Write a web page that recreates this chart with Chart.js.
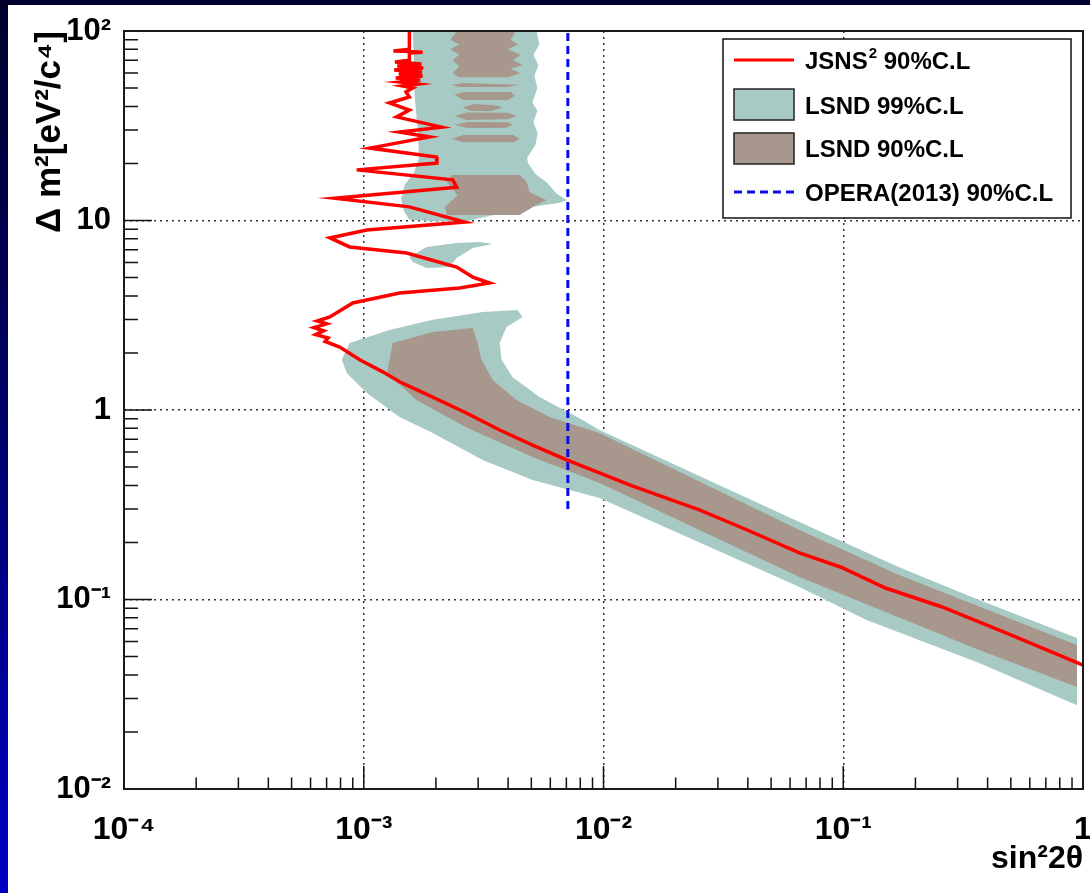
<!DOCTYPE html>
<html>
<head>
<meta charset="utf-8">
<script src="https://cdn.jsdelivr.net/npm/chart.js@4.4.1/dist/chart.umd.min.js"></script>
<style>
  html, body { margin: 0; padding: 0; width: 1090px; height: 893px; overflow: hidden;
    background: linear-gradient(to bottom, #00002c 0%, #000066 45%, #0000c4 100%); }
  #wrap { position: absolute; left: 8px; top: 5px; width: 1082px; height: 888px; background: #ffffff; }
  canvas { display: block; }
</style>
</head>
<body>
<div id="wrap"><canvas id="c" width="1082" height="888"></canvas></div>
<script>
// ---------- tick labels ----------
const xTickValues = [1e-4, 1e-3, 1e-2, 1e-1, 1];
const xTickLabels = ['10\u207B\u2074', '10\u207B\u00B3', '10\u207B\u00B2', '10\u207B\u00B9', '1'];
const yTickValues = [1e-2, 1e-1, 1, 10, 100];
const yTickLabels = ['10\u207B\u00B2', '10\u207B\u00B9', '1', '10', '10\u00B2'];
const minorSteps = [2, 3, 4, 5, 6, 7, 8, 9];

// ---------- JSNS2 90% C.L. sensitivity ----------
const jsnsSin2 = [1.55e-3, 1.55e-3, 1.33e-3, 1.55e-3, 1.76e-3, 1.55e-3, 1.55e-3,
  1.35e-3, 1.74e-3, 1.38e-3, 1.77e-3, 1.34e-3, 1.75e-3, 1.40e-3, 1.76e-3, 1.36e-3, 1.72e-3,
  1.42e-3, 1.68e-3, 1.45e-3, 1.60e-3,
  1.50e-3, 1.55e-3, 1.28e-3, 1.55e-3, 1.37e-3,
  2.11e-3, 1.41e-3, 1.88e-3, 1.06e-3, 2.01e-3, 2.02e-3, 9.35e-4, 2.35e-3, 2.44e-3, 7.57e-4,
  1.55e-3, 2.64e-3, 1.03e-3, 7.22e-4, 8.74e-4, 1.51e-3, 2.44e-3, 2.85e-3, 3.35e-3, 2.51e-3,
  1.41e-3, 9.00e-4, 7.22e-4, 6.40e-4, 7.00e-4, 6.20e-4, 6.80e-4, 6.30e-4, 7.10e-4, 6.90e-4,
  7.94e-4, 9.62e-4, 1.20e-3, 1.41e-3, 1.94e-3, 2.68e-3, 3.69e-3, 5.06e-3, 7.02e-3, 1.30e-2,
  2.51e-2, 4.0e-2, 6.56e-2, 9.80e-2, 1.5e-1, 2.585e-1, 5.0e-1, 1.0];
const jsnsDm2 = [100, 80, 78.5, 78, 77.2, 76.5, 70,
  68.6, 67.0, 65.4, 63.8, 62.3, 60.8, 59.3, 57.9, 56.5, 55.1,
  53.8, 52.5, 51.3, 50.0,
  47.7, 44.9, 41.7, 38.3, 35.2,
  31.1, 29.3, 27.6, 24.1, 21.6, 20.1, 18.5, 16.4, 15.0, 13.1,
  11.8, 9.82, 8.91, 8.09, 7.25, 6.74, 5.68, 5.03, 4.68, 4.40,
  4.14, 3.67, 3.10, 2.95, 2.85, 2.72, 2.62, 2.50, 2.40, 2.30,
  2.15, 1.84, 1.59, 1.41, 1.17, 0.964, 0.784, 0.653, 0.545, 0.40,
  0.297, 0.232, 0.176, 0.148, 0.115, 0.0913, 0.065, 0.0451];

// ---------- OPERA(2013) 90% C.L. ----------
const operaSin2 = [7.1e-3, 7.1e-3];
const operaDm2 = [0.3, 100];

// ---------- LSND 99% C.L. (three islands) ----------
const lsnd99UpperSin2 = [1.60e-3, 1.62e-3, 1.63e-3, 1.68e-3, 1.70e-3, 1.62e-3, 1.48e-3, 1.43e-3, 1.47e-3, 1.55e-3,
  2.0e-3, 2.68e-3, 3.69e-3, 5.0e-3, 6.56e-3, 7.02e-3, 6.37e-3, 5.79e-3, 5.2e-3, 4.85e-3,
  4.8e-3, 5.2e-3, 5.31e-3, 5.1e-3, 5.3e-3, 5.05e-3, 5.3e-3, 5.15e-3, 5.35e-3, 5.1e-3, 5.4e-3, 5.26e-3];
const lsnd99UpperDm2 = [100, 70, 45, 30, 21.4, 18, 15.4, 13.0, 11.2, 10.1,
  9.9, 9.9, 10.9, 11.8, 12.4, 12.8, 13.9, 15.9, 17.6, 20.0,
  21.4, 25, 29, 33, 38, 42, 50, 58, 66, 75, 85, 100];
const lsnd99IslandSin2 = [1.55e-3, 1.83e-3, 2.44e-3, 3.04e-3, 3.45e-3, 2.85e-3, 2.44e-3, 2.28e-3, 1.83e-3, 1.60e-3];
const lsnd99IslandDm2 = [6.42, 7.24, 7.61, 7.70, 7.52, 7.16, 6.34, 5.68, 5.61, 6.04];
const lsnd99LowerSin2 = [8.1e-4, 8.74e-4, 1.28e-3, 1.94e-3, 3.13e-3, 4.38e-3, 4.60e-3, 3.94e-3, 3.69e-3, 3.76e-3,
  4.18e-3, 5.41e-3, 8.18e-3, 9.62e-3, 6.56e-2, 1.71e-1, 3.69e-1, 9.44e-1, 9.44e-1, 3.69e-1,
  1.25e-1, 6.56e-2, 9.62e-3, 5.06e-3, 3.13e-3, 1.94e-3, 1.41e-3, 1.03e-3, 8.49e-4];
const lsnd99LowerDm2 = [1.84, 2.26, 2.64, 2.99, 3.29, 3.37, 3.10, 2.74, 2.26, 1.84,
  1.49, 1.17, 0.886, 0.784, 0.2564, 0.148, 0.0994, 0.0626, 0.0277, 0.0462,
  0.078, 0.1164, 0.343, 0.427, 0.545, 0.756, 0.918, 1.23, 1.57];

// ---------- LSND 90% C.L. (several islands) ----------
const lsnd90BandASin2 = [2.45e-3, 2.30e-3, 2.50e-3, 2.30e-3, 2.50e-3, 2.35e-3, 2.50e-3, 2.35e-3, 2.50e-3,
  4.0e-3, 4.5e-3, 4.1e-3, 4.6e-3, 4.2e-3, 4.5e-3, 4.0e-3, 4.4e-3, 4.1e-3, 4.3e-3];
const lsnd90BandADm2 = [100, 90, 85, 80, 75, 70, 65, 60, 57,
  57, 60, 63, 66, 70, 75, 80, 85, 90, 100];
const lsnd90BandBSin2 = [2.33e-3, 2.6e-3, 4.47e-3, 4.0e-3, 2.5e-3];
const lsnd90BandBDm2 = [52, 53.2, 52, 50.6, 50.6];
const lsnd90BandCSin2 = [2.39e-3, 2.6e-3, 4.1e-3, 4.26e-3, 4.0e-3, 2.6e-3];
const lsnd90BandCDm2 = [46, 47.7, 47.7, 45.5, 43.3, 43.3];
const lsnd90BandDSin2 = [2.59e-3, 2.9e-3, 3.6e-3, 3.79e-3, 3.4e-3, 2.8e-3];
const lsnd90BandDDm2 = [39.5, 41.2, 40.5, 39.5, 37.8, 37.8];
const lsnd90BandESin2 = [2.39e-3, 2.7e-3, 4.0e-3, 4.34e-3, 4.0e-3, 2.7e-3];
const lsnd90BandEDm2 = [35.6, 37.2, 37.0, 35.6, 34.2, 33.9];
const lsnd90BandFSin2 = [2.39e-3, 2.7e-3, 4.0e-3, 4.18e-3, 3.9e-3, 2.7e-3];
const lsnd90BandFDm2 = [32, 33.1, 33.0, 32, 30.8, 30.8];
const lsnd90BandGSin2 = [2.33e-3, 2.6e-3, 4.2e-3, 4.47e-3, 4.2e-3, 2.6e-3];
const lsnd90BandGDm2 = [27, 28.3, 28.3, 27, 25.9, 25.9];
const lsnd90BlobSin2 = [2.33e-3, 4.47e-3, 4.78e-3, 4.92e-3, 5.79e-3, 5.26e-3, 4.47e-3, 2.22e-3, 2.18e-3, 2.46e-3, 2.22e-3];
const lsnd90BlobDm2 = [17.4, 17.4, 16.0, 14.1, 12.8, 12.1, 10.7, 10.7, 11.8, 13.6, 16.0];
const lsnd90LowerSin2 = [1.25e-3, 1.32e-3, 1.94e-3, 2.85e-3, 2.96e-3, 3.10e-3, 3.45e-3, 4.34e-3, 5.96e-3, 9.62e-3,
  6.56e-2, 1.71e-1, 9.44e-1, 9.44e-1, 3.69e-1, 6.56e-2, 9.62e-3, 5.06e-3, 2.68e-3, 1.66e-3];
const lsnd90LowerDm2 = [1.57, 2.26, 2.58, 2.71, 2.34, 1.84, 1.44, 1.13, 0.918, 0.756,
  0.2328, 0.1346, 0.0575, 0.0345, 0.0541, 0.1315, 0.412, 0.565, 0.809, 1.13];

// ---------- styles ----------
const RED = '#ff0000', BLUE = '#0a0ae6', TEAL = '#a7cbc4', BROWN = '#a8978d';
const FONT = '"Liberation Sans", Arial, Helvetica, sans-serif';

function pts(xs, ys) { return xs.map((v, i) => ({ x: v, y: ys[i] })); }
function region(label, xs, ys, color, order) {
  return { label, data: pts(xs, ys), showLine: true, fill: 'shape', backgroundColor: color,
    borderColor: color, borderWidth: 0, pointRadius: 0, tension: 0, order };
}

const datasets = [
  { label: 'JSNS\u00B2 90%C.L', data: pts(jsnsSin2, jsnsDm2), showLine: true, fill: false,
    borderColor: RED, borderWidth: 3.5, pointRadius: 0, tension: 0, order: 0 },
  { label: 'OPERA(2013) 90%C.L', data: pts(operaSin2, operaDm2), showLine: true, fill: false,
    borderColor: BLUE, borderWidth: 3, borderDash: [8, 5], pointRadius: 0, order: 1 },
  region('LSND 90%C.L', lsnd90BandASin2, lsnd90BandADm2, BROWN, 2),
  region('LSND 90%C.L', lsnd90BandBSin2, lsnd90BandBDm2, BROWN, 2),
  region('LSND 90%C.L', lsnd90BandCSin2, lsnd90BandCDm2, BROWN, 2),
  region('LSND 90%C.L', lsnd90BandDSin2, lsnd90BandDDm2, BROWN, 2),
  region('LSND 90%C.L', lsnd90BandESin2, lsnd90BandEDm2, BROWN, 2),
  region('LSND 90%C.L', lsnd90BandFSin2, lsnd90BandFDm2, BROWN, 2),
  region('LSND 90%C.L', lsnd90BandGSin2, lsnd90BandGDm2, BROWN, 2),
  region('LSND 90%C.L', lsnd90BlobSin2, lsnd90BlobDm2, BROWN, 2),
  region('LSND 90%C.L', lsnd90LowerSin2, lsnd90LowerDm2, BROWN, 2),
  region('LSND 99%C.L', lsnd99UpperSin2, lsnd99UpperDm2, TEAL, 3),
  region('LSND 99%C.L', lsnd99IslandSin2, lsnd99IslandDm2, TEAL, 3),
  region('LSND 99%C.L', lsnd99LowerSin2, lsnd99LowerDm2, TEAL, 3)
];

// frame + inward ROOT-style ticks + legend
const framePlugin = {
  id: 'frame',
  afterDatasetsDraw(chart) {
    const { ctx, chartArea: a, scales: { x, y } } = chart;
    ctx.save();
    ctx.strokeStyle = '#111';
    ctx.lineWidth = 1.5;
    ctx.beginPath();
    xTickValues.forEach(v => {
      const px = x.getPixelForValue(v);
      ctx.moveTo(px, a.bottom); ctx.lineTo(px, a.bottom - 23);
      minorSteps.forEach(k => {
        const mv = v * k;
        if (mv < x.max) { const mp = x.getPixelForValue(mv); ctx.moveTo(mp, a.bottom); ctx.lineTo(mp, a.bottom - 11.5); }
      });
    });
    yTickValues.forEach(v => {
      const py = y.getPixelForValue(v);
      ctx.moveTo(a.left, py); ctx.lineTo(a.left + 28, py);
      minorSteps.forEach(k => {
        const mv = v * k;
        if (mv < y.max) { const mp = y.getPixelForValue(mv); ctx.moveTo(a.left, mp); ctx.lineTo(a.left + 14, mp); }
      });
    });
    ctx.stroke();
    ctx.lineWidth = 2;
    ctx.strokeStyle = '#1a1a1a';
    ctx.strokeRect(a.left, a.top, a.right - a.left, a.bottom - a.top);
    ctx.restore();
  },
  afterDraw(chart) {
    const ctx = chart.ctx;
    ctx.save();
    ctx.fillStyle = '#ffffff';
    ctx.fillRect(715, 34, 348, 179);
    ctx.strokeStyle = '#111';
    ctx.lineWidth = 1.5;
    ctx.strokeRect(715, 34, 348, 179);
    ctx.strokeStyle = RED; ctx.lineWidth = 3;
    ctx.beginPath(); ctx.moveTo(726, 55); ctx.lineTo(786, 55); ctx.stroke();
    ctx.fillStyle = TEAL; ctx.fillRect(726, 84, 60, 31);
    ctx.strokeStyle = '#222'; ctx.lineWidth = 1.5; ctx.strokeRect(726, 84, 60, 31);
    ctx.fillStyle = BROWN; ctx.fillRect(726, 128, 60, 31);
    ctx.strokeRect(726, 128, 60, 31);
    ctx.strokeStyle = BLUE; ctx.lineWidth = 3; ctx.setLineDash([8, 5]);
    ctx.beginPath(); ctx.moveTo(726, 187); ctx.lineTo(786, 187); ctx.stroke();
    ctx.setLineDash([]);
    ctx.fillStyle = '#000';
    ctx.textBaseline = 'alphabetic';
    ctx.textAlign = 'left';
    ctx.font = 'bold 24px ' + FONT;
    let tx = 797;
    ctx.fillText('JSNS', tx, 64);
    tx += ctx.measureText('JSNS').width;
    ctx.font = 'bold 15px ' + FONT;
    ctx.fillText('2', tx + 1, 53);
    tx += ctx.measureText('2').width + 1;
    ctx.font = 'bold 24px ' + FONT;
    ctx.fillText(' 90%C.L', tx, 64);
    ctx.fillText('LSND 99%C.L', 797, 109);
    ctx.fillText('LSND 90%C.L', 797, 152);
    ctx.fillText('OPERA(2013) 90%C.L', 797, 196);
    ctx.restore();
  }
};

new Chart(document.getElementById('c'), {
  type: 'scatter',
  data: { datasets },
  options: {
    responsive: false,
    animation: false,
    devicePixelRatio: 1,
    layout: { padding: { top: 26, right: 7, left: 0, bottom: 0 } },
    plugins: { legend: { display: false }, tooltip: { enabled: false } },
    elements: { line: { tension: 0 } },
    scales: {
      x: {
        type: 'logarithmic', position: 'bottom', min: 1e-4, max: 1,
        afterBuildTicks: (s) => { s.ticks = xTickValues.map(v => ({ value: v, major: true })); },
        afterFit: (s) => { s.height = 104; s.paddingLeft = 0; s.paddingRight = 0; },
        ticks: {
          autoSkip: false, maxRotation: 0, minRotation: 0, padding: 22, color: '#000',
          font: { family: FONT, size: 32, weight: 'bold' },
          callback: (v) => { const i = xTickValues.findIndex(t => Math.abs(t - v) / t < 1e-6); return i >= 0 ? xTickLabels[i] : ''; }
        },
        grid: { color: '#333', lineWidth: 1.5, drawTicks: false },
        border: { display: false, dash: [2, 4] },
        title: { display: true, text: 'sin\u00B22\u03B8', align: 'end', color: '#000',
          font: { family: FONT, size: 32, weight: 'bold' }, padding: { top: 0, bottom: 15 } }
      },
      y: {
        type: 'logarithmic', position: 'left', min: 1e-2, max: 100,
        afterBuildTicks: (s) => { s.ticks = yTickValues.map(v => ({ value: v, major: true })); },
        afterFit: (s) => { s.width = 116; s.paddingTop = 0; s.paddingBottom = 0; },
        ticks: {
          autoSkip: false, padding: 13, color: '#000',
          font: { family: FONT, size: 31, weight: 'bold' },
          callback: (v) => { const i = yTickValues.findIndex(t => Math.abs(t - v) / t < 1e-6); return i >= 0 ? yTickLabels[i] : ''; }
        },
        grid: { color: '#333', lineWidth: 1.5, drawTicks: false },
        border: { display: false, dash: [2, 4] },
        title: { display: true, text: '\u0394 m\u00B2[eV\u00B2/c\u2074]', align: 'end', color: '#000',
          font: { family: FONT, size: 35, weight: 'bold' }, padding: { top: 21, bottom: 0 } }
      }
    }
  },
  plugins: [framePlugin]
});
</script>
</body>
</html>
